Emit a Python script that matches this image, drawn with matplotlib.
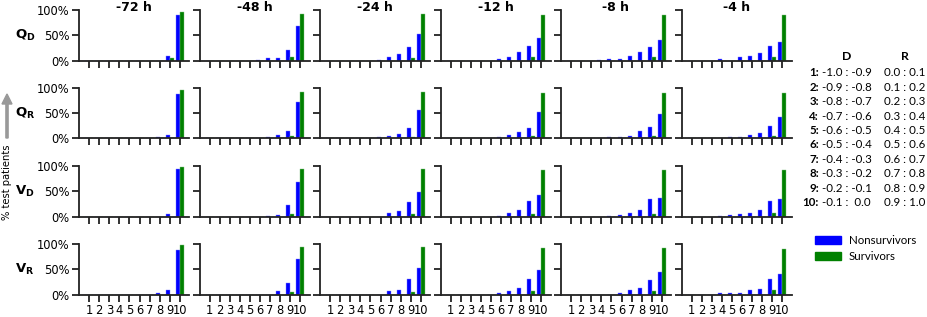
import matplotlib
matplotlib.use("Agg")
import matplotlib.pyplot as plt
from matplotlib.patches import Rectangle, FancyArrow

# ---------------- data ----------------
times = ["-72 h", "-48 h", "-24 h", "-12 h", "-8 h", "-4 h"]
bins = [1, 2, 3, 4, 5, 6, 7, 8, 9, 10]
bin_labels = ["1", "2", "3", "4", "5", "6", "7", "8", "9", "10"]
row_labels = [r"$\mathbf{Q}_{\mathbf{D}}$", r"$\mathbf{Q}_{\mathbf{R}}$",
              r"$\mathbf{V}_{\mathbf{D}}$", r"$\mathbf{V}_{\mathbf{R}}$"]
yticks = [0, 0.5, 1.0]
ytick_labels = ["0%", "50%", "100%"]

# Nonsurvivors (blue) fractions, per time, per bin
qd_non = [
    [0, 0, 0, 0, 0, 0, 0, 0, 0.09, 0.91],
    [0, 0, 0, 0, 0, 0.01, 0.045, 0.045, 0.20, 0.69],
    [0, 0, 0, 0, 0, 0.015, 0.065, 0.125, 0.26, 0.52],
    [0, 0, 0, 0, 0, 0.03, 0.07, 0.16, 0.28, 0.45],
    [0, 0, 0, 0.01, 0.025, 0.035, 0.08, 0.17, 0.26, 0.41],
    [0, 0, 0, 0.025, 0, 0.06, 0.09, 0.145, 0.28, 0.37],
]
qd_surv = [
    [0, 0, 0, 0, 0, 0, 0, 0, 0.04, 0.955],
    [0, 0, 0, 0, 0, 0, 0, 0, 0.06, 0.93],
    [0, 0, 0, 0, 0, 0, 0, 0, 0.05, 0.92],
    [0, 0, 0, 0, 0, 0, 0, 0, 0.065, 0.91],
    [0, 0, 0, 0, 0, 0, 0, 0, 0.065, 0.91],
    [0, 0, 0, 0, 0, 0, 0, 0, 0.065, 0.91],
]
qr_non = [
    [0, 0, 0, 0, 0, 0, 0.01, 0.025, 0.07, 0.89],
    [0, 0, 0, 0, 0, 0, 0.02, 0.06, 0.15, 0.73],
    [0, 0, 0, 0, 0.01, 0.025, 0.055, 0.08, 0.21, 0.57],
    [0, 0, 0, 0, 0, 0.02, 0.065, 0.12, 0.21, 0.53],
    [0, 0, 0, 0, 0.02, 0.02, 0.05, 0.15, 0.22, 0.49],
    [0, 0, 0, 0.01, 0.02, 0.035, 0.065, 0.11, 0.25, 0.43],
]
qr_surv = [
    [0, 0, 0, 0, 0, 0, 0, 0, 0.01, 0.97],
    [0, 0, 0, 0, 0, 0, 0, 0, 0.05, 0.93],
    [0, 0, 0, 0, 0, 0, 0, 0, 0.035, 0.93],
    [0, 0, 0, 0, 0, 0, 0, 0, 0.055, 0.91],
    [0, 0, 0, 0, 0, 0, 0, 0, 0.05, 0.91],
    [0, 0, 0, 0, 0, 0, 0, 0, 0.055, 0.91],
]
vd_non = [
    [0, 0, 0, 0, 0, 0, 0, 0, 0.047, 0.95],
    [0, 0, 0, 0, 0, 0, 0.015, 0.03, 0.23, 0.69],
    [0, 0, 0, 0, 0, 0, 0.065, 0.11, 0.29, 0.49],
    [0, 0, 0, 0, 0, 0.015, 0.065, 0.13, 0.31, 0.43],
    [0, 0, 0, 0, 0.01, 0.035, 0.065, 0.13, 0.35, 0.36],
    [0, 0, 0, 0.01, 0.025, 0.04, 0.065, 0.13, 0.31, 0.34],
]
vd_surv = [
    [0, 0, 0, 0, 0, 0, 0, 0, 0, 0.987],
    [0, 0, 0, 0, 0, 0, 0, 0, 0.04, 0.95],
    [0, 0, 0, 0, 0, 0, 0, 0, 0.04, 0.95],
    [0, 0, 0, 0, 0, 0, 0, 0, 0.055, 0.93],
    [0, 0, 0, 0, 0, 0, 0, 0, 0.055, 0.93],
    [0, 0, 0, 0, 0, 0, 0, 0, 0.06, 0.92],
]
vr_non = [
    [0, 0, 0, 0, 0, 0, 0, 0.027, 0.08, 0.89],
    [0, 0, 0, 0, 0, 0, 0, 0.06, 0.23, 0.70],
    [0, 0, 0, 0, 0, 0, 0.065, 0.09, 0.30, 0.53],
    [0, 0, 0, 0, 0, 0.02, 0.065, 0.13, 0.31, 0.48],
    [0, 0, 0, 0, 0, 0.025, 0.09, 0.13, 0.29, 0.44],
    [0, 0, 0, 0.02, 0.03, 0.035, 0.09, 0.11, 0.31, 0.40],
]
vr_surv = [
    [0, 0, 0, 0, 0, 0, 0, 0, 0, 0.99],
    [0, 0, 0, 0, 0, 0, 0, 0, 0.045, 0.95],
    [0, 0, 0, 0, 0, 0, 0, 0, 0.045, 0.95],
    [0, 0, 0, 0, 0, 0, 0, 0, 0.065, 0.93],
    [0, 0, 0, 0, 0, 0, 0, 0, 0.065, 0.93],
    [0, 0, 0, 0, 0, 0, 0, 0, 0.08, 0.91],
]

d_ranges = ["-1.0 : -0.9", "-0.9 : -0.8", "-0.8 : -0.7", "-0.7 : -0.6", "-0.6 : -0.5",
            "-0.5 : -0.4", "-0.4 : -0.3", "-0.3 : -0.2", "-0.2 : -0.1", "-0.1 :  0.0"]
r_ranges = ["0.0 : 0.1", "0.1 : 0.2", "0.2 : 0.3", "0.3 : 0.4", "0.4 : 0.5",
            "0.5 : 0.6", "0.6 : 0.7", "0.7 : 0.8", "0.8 : 0.9", "0.9 : 1.0"]
legend_labels = ["Nonsurvivors", "Survivors"]

# ---------------- layout ----------------
W, H = 927, 317
fig = plt.figure(figsize=(W / 100, H / 100), dpi=100)

non_rows = [qd_non, qr_non, vd_non, vr_non]
surv_rows = [qd_surv, qr_surv, vd_surv, vr_surv]

col_left_px = [79, 199.5, 320, 440.5, 561, 681.5]
ax_w_px = 110
row_top_px = [10, 88, 166, 244]
ax_h_px = 50.5

BLUE = "#0000ff"
GREEN = "#008000"
SPINE = "#222222"
bw = 0.4

for r in range(4):
    for c in range(6):
        left = col_left_px[c] / W
        bottom = (H - row_top_px[r] - ax_h_px) / H
        ax = fig.add_axes([left, bottom, ax_w_px / W, ax_h_px / H])
        ax.bar([b - bw / 2 for b in bins], non_rows[r][c], width=bw, color=BLUE,
               edgecolor="#8080ff", linewidth=0.3)
        ax.bar([b + bw / 2 for b in bins], surv_rows[r][c], width=bw, color=GREEN,
               edgecolor="#80c080", linewidth=0.3)
        ax.set_xlim(0, 10.9)
        ax.set_ylim(0, 1.0)
        for s in ["top", "right"]:
            ax.spines[s].set_visible(False)
        for s in ["left", "bottom"]:
            ax.spines[s].set_linewidth(1.3)
            ax.spines[s].set_color(SPINE)
        ax.set_xticks(bins)
        ax.set_yticks(yticks)
        ax.tick_params(axis="both", length=5, width=1.3, color=SPINE,
                       labelsize=8.3, pad=2)
        if r == 3:
            ax.set_xticklabels(bin_labels)
        else:
            ax.set_xticklabels([])
        if c == 0:
            ax.set_yticklabels(ytick_labels)
        else:
            ax.set_yticklabels([])
        if r == 0:
            ax.text(0.5, 1.04, times[c], transform=ax.transAxes, fontsize=9,
                    fontweight="bold", ha="center", va="center")
        if c == 0:
            ymid = (H - row_top_px[r] - ax_h_px / 2) / H
            fig.text(15 / W, ymid, row_labels[r], fontsize=9.5, ha="left",
                     va="center")

# y label and arrow
fig.text(7 / W, (H - 182) / H, "% test patients", rotation=90, fontsize=7.2,
         ha="center", va="center")
fig.patches.append(FancyArrow(7 / W, (H - 138) / H, 0, 44 / H, width=2.2 / W,
                              head_width=10 / W, head_length=10 / H,
                              length_includes_head=True, color="#999999",
                              transform=fig.transFigure, figure=fig))

# right-hand table
tf = "Lato"
fs = 8.3
fig.text(847 / W, (H - 57) / H, "D", fontsize=fs + 0.5, fontweight="bold",
         family=tf, ha="center", va="center")
fig.text(905 / W, (H - 57) / H, "R", fontsize=fs + 0.5, fontweight="bold",
         family=tf, ha="center", va="center")
for i in range(10):
    y = (H - (73 + i * 14.4)) / H
    fig.text(819 / W, y, bin_labels[i] + ":", fontsize=fs, fontweight="bold",
             family=tf, ha="right", va="center")
    fig.text(822 / W, y, d_ranges[i], fontsize=fs, family=tf, ha="left",
             va="center")
    fig.text(884 / W, y, r_ranges[i], fontsize=fs, family=tf, ha="left",
             va="center")

# legend
for k, (lab, col) in enumerate(zip(legend_labels, [BLUE, GREEN])):
    yc = 240 + k * 16
    fig.patches.append(Rectangle((815 / W, (H - yc - 3.5) / H), 26 / W, 7.5 / H,
                                 color=col, transform=fig.transFigure,
                                 figure=fig))
    fig.text(849 / W, (H - yc) / H, lab, fontsize=fs, family=tf, ha="left",
             va="center")

fig.savefig("out.png", dpi=100)
